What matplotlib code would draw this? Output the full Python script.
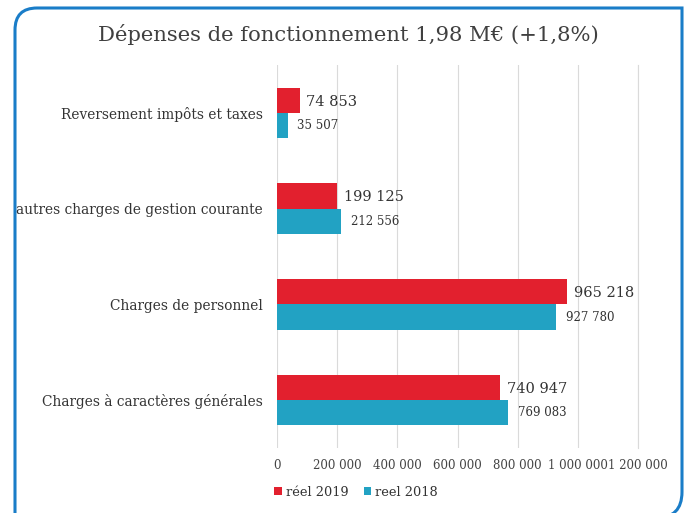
import matplotlib
matplotlib.use("Agg")
import matplotlib.pyplot as plt
import numpy as np
from matplotlib.patches import PathPatch, Patch
from matplotlib.path import Path

categories = ["Reversement impôts et taxes", "autres charges de gestion courante",
              "Charges de personnel", "Charges à caractères générales"]
reel_2019 = [74853, 199125, 965218, 740947]
reel_2018 = [35507, 212556, 927780, 769083]
xticks = [0, 200000, 400000, 600000, 800000, 1000000, 1200000]

RED = "#E2202E"
BLUE = "#22A2C3"
W, H = 689, 513


def fmt(v):
    return f"{v:,}".replace(",", " ")


def fx(px, py):
    # pixel coords (y down) -> figure fraction
    return (px / W, 1 - py / H)


plt.rcParams["font.family"] = ["DejaVu Serif"]

fig = plt.figure(figsize=(6.89, 5.13), dpi=100)
fig.patch.set_facecolor("white")

# blue frame: rounded top-left and bottom-right, square top-right, runs off the bottom
verts = [fx(15, 525), fx(15, 30), fx(15, 8), fx(37, 8), fx(682, 8),
         fx(682, 492), fx(682, 518), fx(656, 518)]
codes = [Path.MOVETO, Path.LINETO, Path.CURVE3, Path.CURVE3, Path.LINETO,
         Path.LINETO, Path.CURVE3, Path.CURVE3]
frame = PathPatch(Path(verts, codes), transform=fig.transFigure, facecolor="none",
                  edgecolor="#1A7DC8", linewidth=2.2, clip_on=False)
fig.patches.append(frame)

ax = fig.add_axes([277 / W, 1 - 448 / H, 361 / W, 383 / H])

y = np.arange(len(categories))
h = 0.265
ax.barh(y - h / 2, reel_2019, height=h, color=RED, label="réel 2019", zorder=3)
ax.barh(y + h / 2, reel_2018, height=h, color=BLUE, label="reel 2018", zorder=3)

for yi, v in zip(y, reel_2019):
    ax.annotate(fmt(v), (v, yi - h / 2), textcoords="offset points", xytext=(5, -1),
                va="center", ha="left", fontsize=10.5, color="#333333")
for yi, v in zip(y, reel_2018):
    ax.annotate(fmt(v), (v, yi + h / 2), textcoords="offset points", xytext=(7, 0),
                va="center", ha="left", fontsize=8.5, color="#333333")

ax.set_ylim(len(categories) - 0.5, -0.5)
ax.set_yticks(y)
ax.set_yticklabels(categories, fontsize=9.9, color="#333333")
ax.set_xlim(0, 1200000)
ax.set_xticks(xticks)
ax.set_xticklabels([fmt(t) for t in xticks], fontsize=8.5, color="#444444")
ax.tick_params(axis="both", length=0)
ax.tick_params(axis="x", pad=8)
ax.tick_params(axis="y", pad=10)
ax.grid(axis="x", color="#DADADA", linewidth=0.8, zorder=0)
ax.axvline(xticks[-1], color="#DADADA", linewidth=0.8, zorder=0, clip_on=False)
for spine in ax.spines.values():
    spine.set_visible(False)

fig.text(348 / W, 1 - 35 / H, "Dépenses de fonctionnement 1,98 M€ (+1,8%)",
         ha="center", va="center", fontsize=15.2, color="#404040")

handles = [Patch(facecolor=RED, label="réel 2019"), Patch(facecolor=BLUE, label="reel 2018")]
fig.legend(handles=handles, loc="center", bbox_to_anchor=(356 / W, 1 - 492 / H),
           ncol=2, frameon=False, fontsize=9.3, handlelength=0.6, handleheight=0.6,
           handletextpad=0.3, columnspacing=1.2, labelcolor="#333333")

fig.savefig("out.png", dpi=100, facecolor="white")
